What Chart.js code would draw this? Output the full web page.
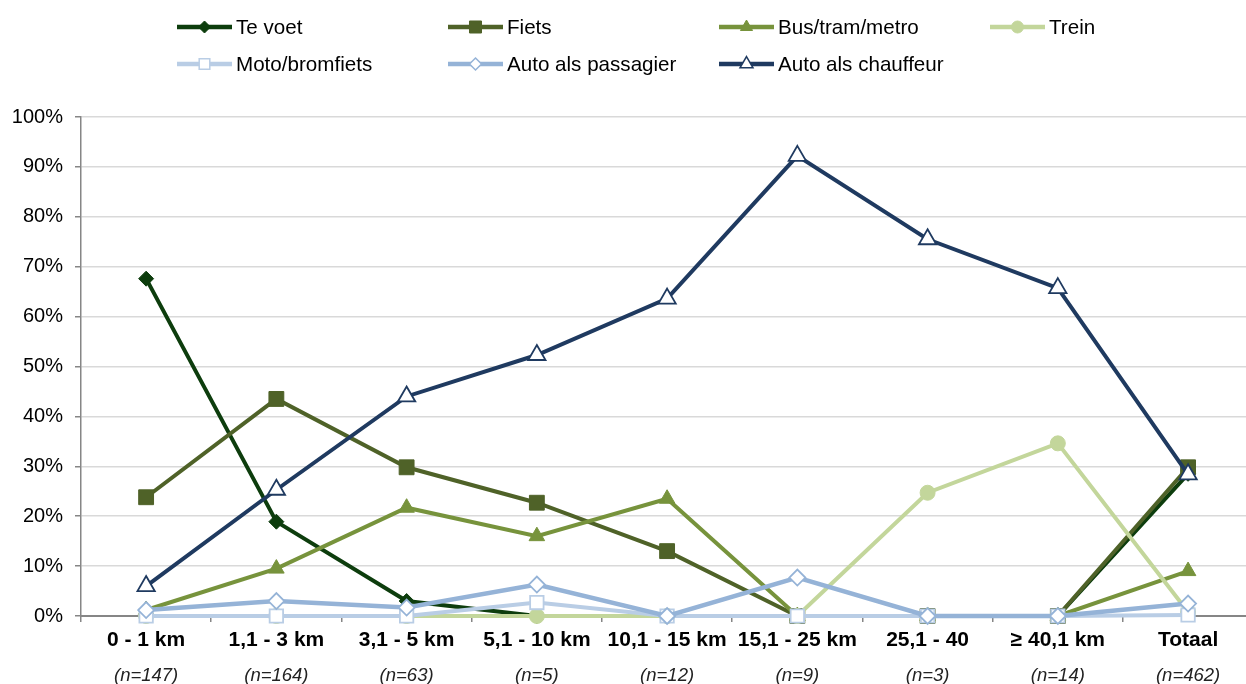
<!DOCTYPE html>
<html>
<head>
<meta charset="utf-8">
<script src="https://cdn.jsdelivr.net/npm/chart.js@4/dist/chart.umd.min.js"></script>
<style>
  html, body { margin: 0; padding: 0; background: #fff; overflow: hidden; }
  #wrap { width: 1246px; height: 684px; overflow: hidden; position: relative; }
  #c { position: absolute; left: 0; top: 0; }
</style>
</head>
<body>
<div id="wrap"><canvas id="c" width="1265" height="684"></canvas></div>
<script>
// Distance classes and respondents per class
const categories = ['0 - 1 km', '1,1 - 3 km', '3,1 - 5 km', '5,1 - 10 km', '10,1 - 15 km', '15,1 - 25 km', '25,1 - 40', '\u2265 40,1 km', 'Totaal'];
const sampleSizes = ['(n=147)', '(n=164)', '(n=63)', '(n=5)', '(n=12)', '(n=9)', '(n=3)', '(n=14)', '(n=462)'];

// Share of each transport mode per distance class (%)
const teVoet        = [67.6, 18.9, 3.0, 0, 0, 0, 0, 0, 28.5];
const fiets         = [23.8, 43.5, 29.8, 22.7, 13.0, 0, 0, 0, 29.8];
const busTramMetro  = [1.2, 9.5, 21.7, 16.0, 23.5, 0, 0, 0, 9.0];
const trein         = [0, 0, 0, 0, 0, 0, 24.7, 34.6, 0.8];
const motoBromfiets = [0, 0, 0, 2.7, 0, 0, 0, 0, 0.2];
const autoPassagier = [1.2, 3.0, 1.7, 6.3, 0, 7.7, 0, 0, 2.5];
const autoChauffeur = [6.0, 25.3, 44.0, 52.3, 63.6, 92.2, 75.5, 65.7, 28.4];

const yTicks = [0, 10, 20, 30, 40, 50, 60, 70, 80, 90, 100];

const FONT = "'Liberation Sans', Arial, sans-serif";

const series = [
  { label: 'Te voet',            data: teVoet,        color: '#0d3d0d', style: 'rectRot',  r: 7.5, fill: true,  lw: 4,   lr: 6 },
  { label: 'Fiets',              data: fiets,         color: '#4f6228', style: 'rect',     r: 10.5, fill: true, lw: 4,   lr: 8.5 },
  { label: 'Bus/tram/metro',     data: busTramMetro,  color: '#77933c', style: 'triangle', r: 9,   fill: true,  lw: 4,   lr: 7 },
  { label: 'Trein',              data: trein,         color: '#c3d69b', style: 'circle',   r: 7.5, fill: true,  lw: 4,   lr: 6 },
  { label: 'Moto/bromfiets',     data: motoBromfiets, color: '#b9cde5', style: 'rect',     r: 9.5, fill: false, lw: 4,   lr: 7.5 },
  { label: 'Auto als passagier', data: autoPassagier, color: '#95b3d7', style: 'rectRot',  r: 8,   fill: false, lw: 4.5, lr: 6 },
  { label: 'Auto als chauffeur', data: autoChauffeur, color: '#1f3a60', style: 'triangle', r: 10,  fill: false, lw: 4,   lr: 7.5 }
];

const datasets = series.map((s, i) => ({
  label: s.label,
  data: s.data,
  borderColor: s.color,
  backgroundColor: s.color,
  borderWidth: s.lw,
  tension: 0,
  pointStyle: s.style,
  pointRadius: s.r,
  pointHoverRadius: s.r,
  pointBackgroundColor: s.fill ? s.color : '#ffffff',
  pointBorderColor: s.color,
  pointBorderWidth: s.fill ? 1 : 1.8,
  order: series.length - i,   // later series drawn on top
  clip: false
}));

// Draws one marker shape centred on (x, y)
function marker(ctx, style, x, y, r, color, filled) {
  ctx.save();
  ctx.beginPath();
  if (style === 'rectRot') {
    ctx.moveTo(x, y - r); ctx.lineTo(x + r, y); ctx.lineTo(x, y + r); ctx.lineTo(x - r, y);
    ctx.closePath();
  } else if (style === 'rect') {
    const h = r / Math.SQRT2;
    ctx.rect(x - h, y - h, 2 * h, 2 * h);
  } else if (style === 'triangle') {
    ctx.moveTo(x, y - r);
    ctx.lineTo(x + Math.sin(Math.PI * 2 / 3) * r, y - Math.cos(Math.PI * 2 / 3) * r);
    ctx.lineTo(x - Math.sin(Math.PI * 2 / 3) * r, y - Math.cos(Math.PI * 2 / 3) * r);
    ctx.closePath();
  } else {
    ctx.arc(x, y, r, 0, Math.PI * 2);
  }
  ctx.fillStyle = filled ? color : '#ffffff';
  ctx.fill();
  ctx.lineWidth = filled ? 1 : 1.5;
  ctx.strokeStyle = color;
  ctx.stroke();
  ctx.restore();
}

// Legend laid out on a fixed four-column grid
const gridLegend = {
  id: 'gridLegend',
  afterDraw(chart) {
    const ctx = chart.ctx;
    const colX = [177, 448, 719, 990];
    const rowY = [27, 64];
    series.forEach((s, i) => {
      const row = i < 4 ? 0 : 1;
      const col = i < 4 ? i : i - 4;
      const x = colX[col], y = rowY[row];
      ctx.save();
      ctx.strokeStyle = s.color;
      ctx.lineWidth = 4.5;
      ctx.beginPath();
      ctx.moveTo(x, y);
      ctx.lineTo(x + 55, y);
      ctx.stroke();
      marker(ctx, s.style, x + 27.5, y, s.lr, s.color, s.fill);
      ctx.fillStyle = '#000';
      ctx.font = '20.6px ' + FONT;
      ctx.textBaseline = 'middle';
      ctx.textAlign = 'left';
      ctx.fillText(s.label, x + 59, y + 1);
      ctx.restore();
    });
  }
};

new Chart(document.getElementById('c'), {
  type: 'line',
  data: { labels: categories, datasets },
  plugins: [gridLegend],
  options: {
    responsive: false,
    animation: false,
    devicePixelRatio: 1,
    layout: { padding: { top: 117, left: 0, right: 6, bottom: 0 } },
    plugins: {
      legend: { display: false },
      tooltip: { enabled: false }
    },
    scales: {
      x: {
        type: 'category',
        labels: categories,
        offset: true,
        position: 'bottom',
        grid: { offset: true, drawOnChartArea: false, drawTicks: true, tickLength: 6, color: '#868686', lineWidth: 1.5 },
        border: { display: true, color: '#868686', width: 2 },
        ticks: { color: '#000', font: { family: FONT, size: 21, weight: 'bold' }, padding: 6, maxRotation: 0, autoSkip: false },
        afterFit: s => { s.height = 40; }
      },
      x2: {
        type: 'category',
        labels: sampleSizes,
        offset: true,
        position: 'bottom',
        grid: { display: false, drawTicks: false },
        border: { display: false },
        ticks: { color: '#222', font: { family: FONT, size: 18.5, style: 'italic' }, padding: 9, maxRotation: 0, autoSkip: false },
        afterFit: s => { s.height = 28; }
      },
      y: {
        min: 0,
        max: 100,
        afterBuildTicks: s => { s.ticks = yTicks.map(v => ({ value: v })); },
        grid: { color: '#d9d9d9', lineWidth: 1.5, drawTicks: true, tickLength: 6, tickColor: '#868686' },
        border: { display: true, color: '#868686', width: 1.5 },
        ticks: { color: '#000', font: { family: FONT, size: 20 }, padding: 12, callback: v => v + '%' },
        afterFit: s => { s.width = 81; }
      }
    }
  }
});
</script>
</body>
</html>
